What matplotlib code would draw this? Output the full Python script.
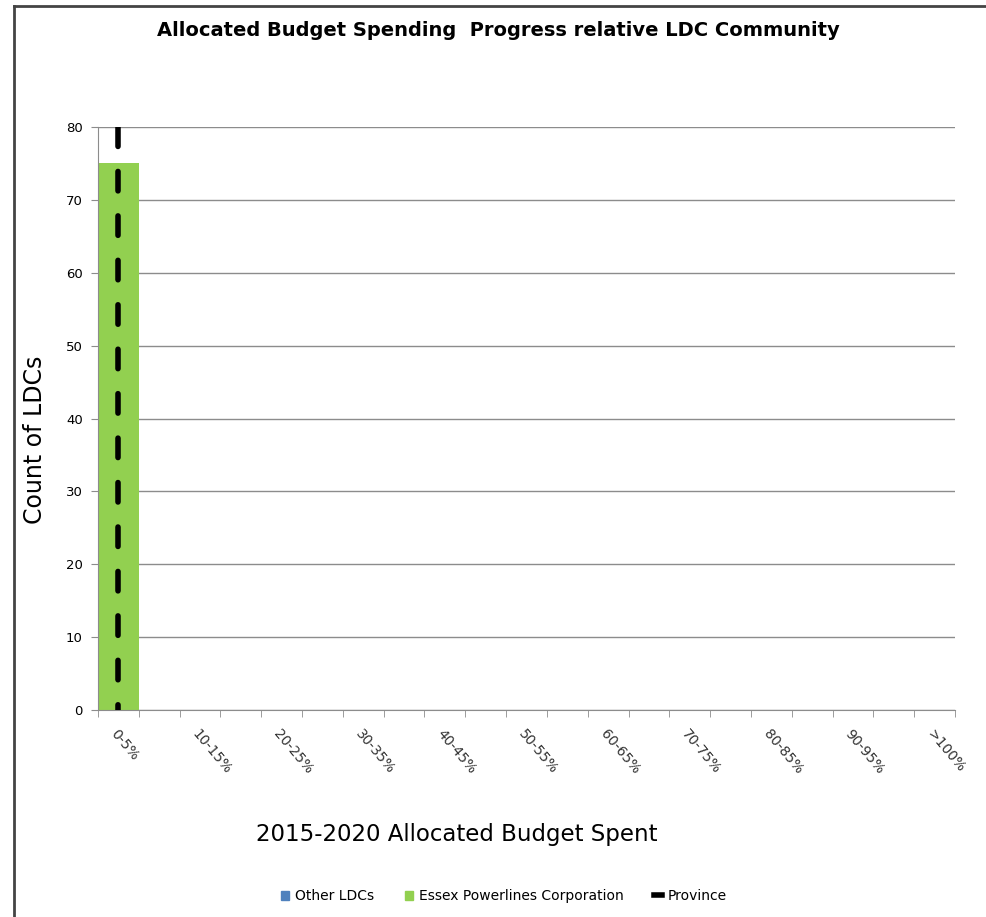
from matplotlib import pyplot as plt
from matplotlib.lines import Line2D
from matplotlib.patches import Patch
import numpy as np

# bins of allocated budget spent
categories = ["0-5%", "5-10%", "10-15%", "15-20%", "20-25%", "25-30%", "30-35%",
              "35-40%", "40-45%", "45-50%", "50-55%", "55-60%", "60-65%", "65-70%",
              "70-75%", "75-80%", "80-85%", "85-90%", "90-95%", "95-100%", ">100%"]
other_ldcs = [0] * 21
essex = [75] + [0] * 20
province_x = ["0-5%", "0-5%"]
province_y = [80, 0]

blue = "#4F81BD"
green = "#92D050"
grid_col = "#8C8C8C"

fig = plt.figure(figsize=(9.87, 9.17), dpi=100)
ax = fig.add_axes([98 / 987, 1 - 710 / 917, (955 - 98) / 987, (710 - 127) / 917])

x = np.arange(len(categories))
ax.bar(x, other_ldcs, width=1.0, color=blue, zorder=2)
ax.bar(x, essex, width=1.0, color=green, zorder=2)

# province marker line
px = [categories.index(c) for c in province_x]
ax.plot(px, province_y, color="black", lw=4, solid_capstyle="round",
        dash_capstyle="round", dashes=(3.5, 4.5), zorder=3)

ax.set_xlim(-0.5, len(categories) - 0.5)
ax.set_ylim(0, 80)
ax.set_yticks(range(0, 81, 10))
ax.yaxis.grid(True, color=grid_col, lw=1)
ax.set_axisbelow(True)

ax.set_xticks(x[::2])
ax.set_xticklabels(categories[::2], rotation=-50, ha="left", va="top",
                   rotation_mode="anchor", fontsize=10, color="#333333")
ax.set_xticks(np.arange(-0.5, len(categories)), minor=True)
ax.tick_params(axis="x", which="major", length=0, pad=12)
ax.tick_params(axis="x", which="minor", length=5, color=grid_col)
ax.tick_params(axis="y", length=5, color=grid_col, labelsize=9.5, pad=6)

for s in ["top", "right"]:
    ax.spines[s].set_visible(False)
for s in ["left", "bottom"]:
    ax.spines[s].set_color(grid_col)

fig.text(498 / 987, 1 - 30 / 917, "Allocated Budget Spending  Progress relative LDC Community",
         ha="center", va="center", fontsize=14, fontweight="bold")
fig.text(35 / 987, 1 - 440 / 917, "Count of LDCs", rotation=90,
         ha="center", va="center", fontsize=17)
fig.text(457 / 987, 1 - 835 / 917, "2015-2020 Allocated Budget Spent",
         ha="center", va="center", fontsize=16.5)

handles = [Patch(color=blue, label="Other LDCs"),
           Patch(color=green, label="Essex Powerlines Corporation"),
           Line2D([0], [0], color="black", lw=4, label="Province")]
fig.legend(handles=handles, loc="center", bbox_to_anchor=(504 / 987, 1 - 896 / 917),
           ncol=3, frameon=False, fontsize=10, handlelength=0.6, handleheight=0.6,
           columnspacing=2.2, handletextpad=0.4)

# outer frame (top and left edges visible)
fig.add_artist(Line2D([14 / 987, 14 / 987], [0, 1 - 6 / 917], color="#444444", lw=2))
fig.add_artist(Line2D([14 / 987, 1], [1 - 6 / 917, 1 - 6 / 917], color="#444444", lw=2))

fig.savefig("out.png")
